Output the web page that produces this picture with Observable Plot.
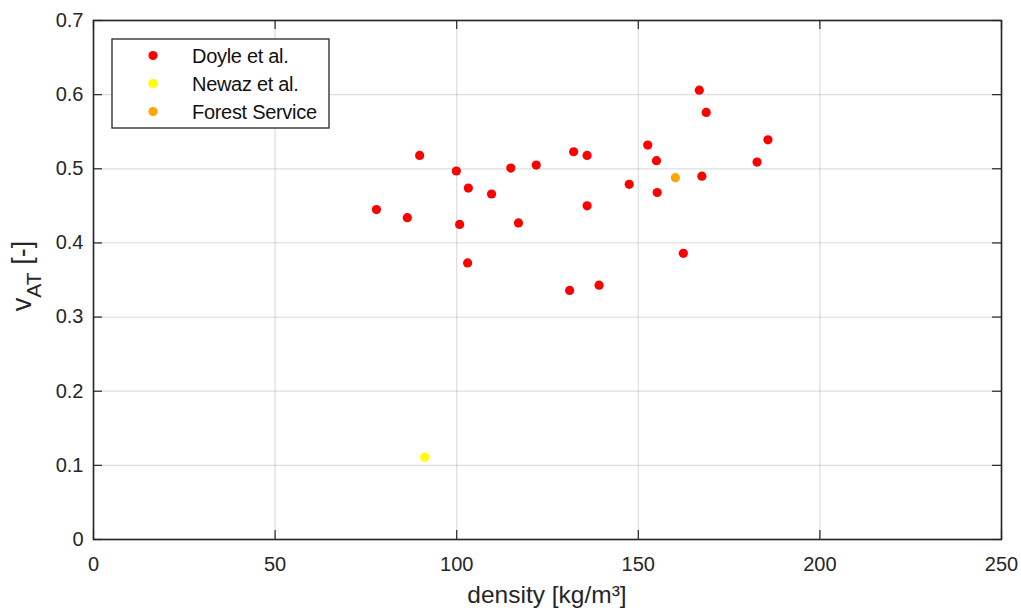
<!DOCTYPE html>
<html><head><meta charset="utf-8">
<script src="https://cdn.jsdelivr.net/npm/d3@7"></script>
<script src="https://cdn.jsdelivr.net/npm/@observablehq/plot@0.6"></script>
<style>body{margin:0;background:#fff;} svg{display:block;}</style>
</head><body><div id="chart"></div>
<script>
// ---- data ----
const doyleDensity = [77.9, 86.4, 89.8, 99.9, 100.8, 103.2, 103.0, 109.6, 114.9, 117.0, 121.9, 131.1, 132.2, 135.9, 135.9, 139.2, 147.5, 152.6, 155.0, 155.2, 166.8, 168.7, 167.5, 162.4, 185.7, 182.7];
const doyleV       = [0.445, 0.434, 0.518, 0.497, 0.425, 0.474, 0.373, 0.466, 0.501, 0.427, 0.505, 0.336, 0.523, 0.518, 0.450, 0.343, 0.479, 0.532, 0.511, 0.468, 0.606, 0.576, 0.490, 0.386, 0.539, 0.509];
const newazDensity = [91.2];
const newazV       = [0.111];
const forestDensity = [160.2];
const forestV       = [0.488];
const seriesNames  = ["Doyle et al.", "Newaz et al.", "Forest Service"];
const seriesColors = ["#ff0000", "#ffff00", "#ffa500"];
const xTicks = [0, 50, 100, 150, 200, 250];
const yTicks = [0, 0.1, 0.2, 0.3, 0.4, 0.5, 0.6, 0.7];
const xTitle = "density [kg/m³]";

const toRows = (xs, ys, s) => xs.map((x, i) => ({density: x, v: ys[i], series: s}));
const rows = [
  ...toRows(doyleDensity, doyleV, seriesNames[0]),
  ...toRows(newazDensity, newazV, seriesNames[1]),
  ...toRows(forestDensity, forestV, seriesNames[2])
];

const W = 1021, H = 608;
const mL = 93, mR = 20, mT = 20, mB = 69;
const font = "'Liberation Sans', Arial, sans-serif";
const ink = "#262626";
const tickPx = 9;
const xd = [xTicks[0], xTicks[xTicks.length - 1]];
const yd = [yTicks[0], yTicks[yTicks.length - 1]];
const tyLen = (yd[1] - yd[0]) * tickPx / (H - mT - mB);
const txLen = (xd[1] - xd[0]) * tickPx / (W - mL - mR);

const chart = Plot.plot({
  width: W, height: H,
  marginLeft: mL, marginRight: mR, marginTop: mT, marginBottom: mB,
  style: {fontFamily: font, background: "#fff", overflow: "visible"},
  x: {domain: xd, ticks: xTicks},
  y: {domain: yd, ticks: yTicks},
  color: {domain: seriesNames, range: seriesColors},
  marks: [
    Plot.gridX(xTicks, {stroke: "#000", strokeOpacity: 0.13, strokeWidth: 1.3}),
    Plot.gridY(yTicks, {stroke: "#000", strokeOpacity: 0.13, strokeWidth: 1.3}),
    // inward ticks on all four sides
    Plot.ruleX(xTicks, {x: d => d, y1: yd[0], y2: yd[0] + tyLen, stroke: ink, strokeWidth: 1.2}),
    Plot.ruleX(xTicks, {x: d => d, y1: yd[1], y2: yd[1] - tyLen, stroke: ink, strokeWidth: 1.2}),
    Plot.ruleY(yTicks, {y: d => d, x1: xd[0], x2: xd[0] + txLen, stroke: ink, strokeWidth: 1.2}),
    Plot.ruleY(yTicks, {y: d => d, x1: xd[1], x2: xd[1] - txLen, stroke: ink, strokeWidth: 1.2}),
    Plot.axisX(xTicks, {tickSize: 0, tickPadding: 17, fontSize: 20, fill: ink, label: null}),
    Plot.axisY(yTicks, {tickSize: 0, tickPadding: 10, fontSize: 20, fill: ink, label: null, tickFormat: d => String(d)}),
    Plot.dot(rows, {x: "density", y: "v", fill: "series", r: 4.6, stroke: "none"}),
    Plot.frame({stroke: ink, strokeWidth: 1.6})
  ]
});

const svg = d3.select(chart);
// x title
svg.append("text").attr("x", mL + (W - mL - mR) / 2).attr("y", 603)
  .attr("text-anchor", "middle").attr("font-size", 24.5).attr("fill", ink)
  .attr("font-family", font).text(xTitle);
// y title with subscript
const yt = svg.append("text").attr("transform", `translate(31,276) rotate(-90)`)
  .attr("text-anchor", "middle").attr("font-size", 27).attr("fill", ink).attr("font-family", font);
yt.append("tspan").text("v");
yt.append("tspan").attr("font-size", 21).attr("dy", 10).text("AT");
yt.append("tspan").attr("dy", -10).text(" [-]");

// legend
const lg = svg.append("g");
lg.append("rect").attr("x", 112).attr("y", 39).attr("width", 217).attr("height", 89)
  .attr("fill", "#fff").attr("stroke", ink).attr("stroke-width", 1.3);
seriesNames.forEach((name, i) => {
  const cy = 55.5 + i * 28;
  lg.append("circle").attr("cx", 153).attr("cy", cy).attr("r", 4.6).attr("fill", seriesColors[i]);
  lg.append("text").attr("x", 192).attr("y", cy).attr("dy", "0.36em").attr("font-size", 20)
    .attr("text-anchor", "start")
    .attr("fill", "#111").attr("font-family", font).attr("letter-spacing", -0.3).text(name);
});

document.getElementById("chart").appendChild(chart);
</script>
</body></html>
